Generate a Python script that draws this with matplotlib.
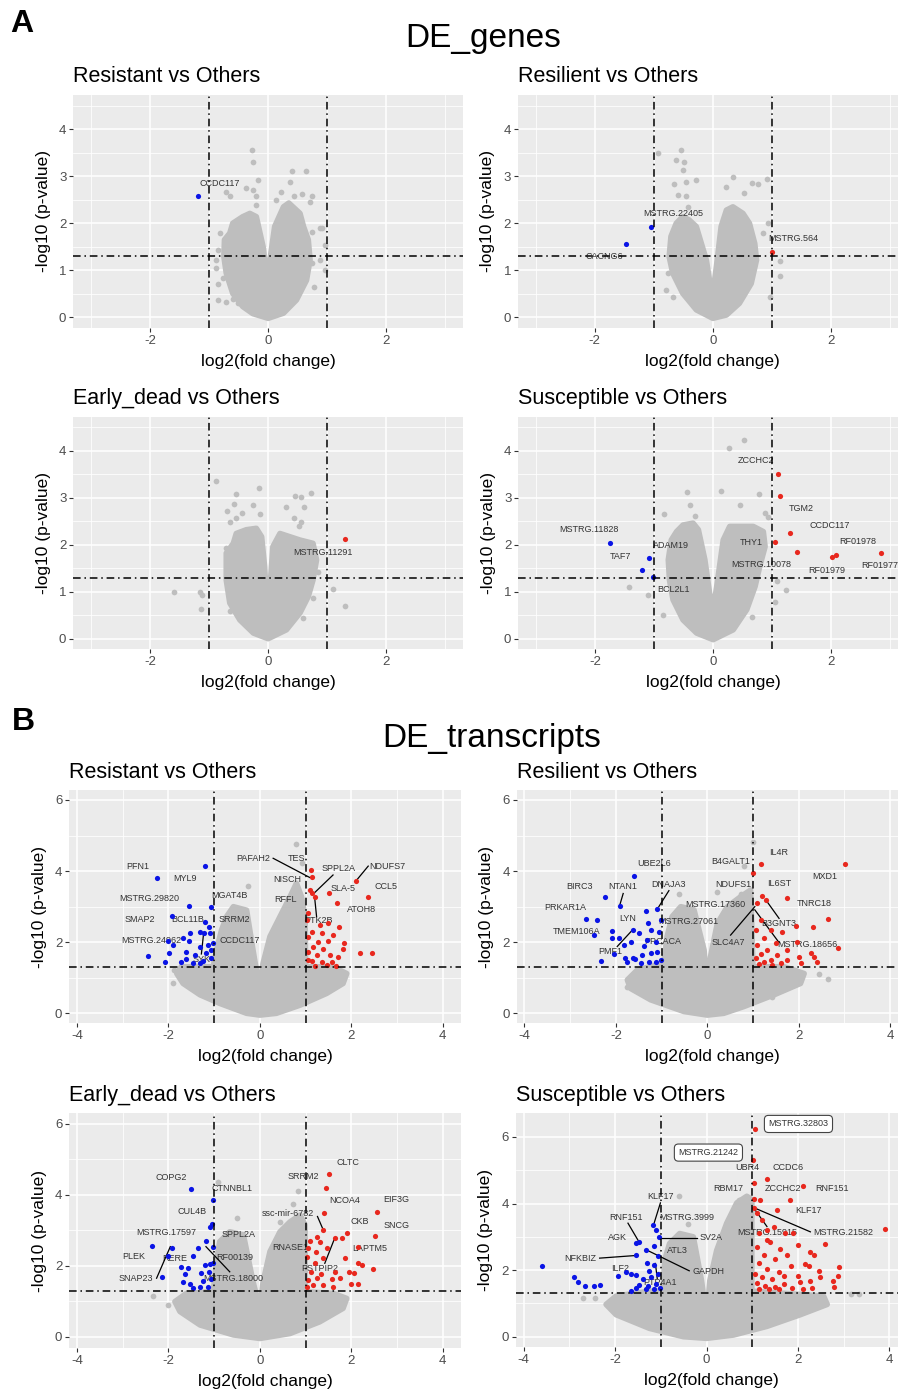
import numpy as np
import matplotlib
matplotlib.use("Agg")
import matplotlib.pyplot as plt

plt.rcParams['font.family'] = ['Liberation Sans', 'DejaVu Sans']
plt.rcParams['axes.unicode_minus'] = False

GREY = '#BEBEBE'
BLUE = '#0A14E6'
RED = '#E8281E'

# ---------------- DE_genes ----------------
# Resistant vs Others
a1_cloud = [(0, -0.02), (-0.26, 0.08), (-0.43, 0.23), (-0.6, 0.51), (-0.71, 0.94), (-0.75, 1.29),
            (-0.74, 1.65), (-0.65, 1.79), (-0.6, 2.0), (-0.43, 2.14), (-0.31, 2.21), (-0.2, 2.14),
            (-0.085, 1.5), (-0.03, 0.94), (0, 0.87), (0.03, 1.22), (0.11, 1.93), (0.26, 2.35),
            (0.35, 2.43), (0.54, 2.21), (0.6, 1.93), (0.68, 1.65), (0.71, 1.22), (0.65, 0.79),
            (0.48, 0.37), (0.26, 0.09)]
a1_grey = [(-0.27, 3.56), (-0.26, 3.31), (-0.17, 2.92), (-0.37, 2.74), (-0.26, 2.71), (-0.71, 2.67),
           (-0.65, 2.57), (-0.2, 2.58), (-0.2, 2.39), (-0.82, 1.79), (-0.85, 1.43), (-0.88, 1.22),
           (-0.88, 1.04), (-0.85, 0.72), (-0.77, 0.83), (-0.85, 0.37), (-0.71, 0.32), (-0.6, 0.4),
           (-0.51, 0.3), (0.40, 3.1), (0.64, 3.1), (0.37, 2.87), (0.22, 2.67), (0.57, 2.62),
           (0.43, 2.57), (0.75, 2.57), (0.71, 2.46), (0.13, 2.5), (0.74, 1.82), (0.88, 1.89),
           (0.92, 1.89), (0.96, 1.54), (0.88, 1.22), (0.74, 1.15), (0.96, 1.01), (0.77, 0.65)]
a1_blue = [(-1.18, 2.58)]
a1_red = []
a1_labels = [("CCDC117", -0.82, 2.84)]

# Resilient vs Others
a2_cloud = [(0, -0.02), (-0.28, 0.16), (-0.51, 0.51), (-0.68, 0.94), (-0.74, 1.29), (-0.71, 1.72),
            (-0.62, 2.0), (-0.51, 2.14), (-0.4, 2.07), (-0.28, 1.93), (-0.11, 1.22), (-0.03, 0.58),
            (0, 0.51), (0.06, 1.08), (0.14, 1.93), (0.23, 2.28), (0.34, 2.35), (0.51, 2.21),
            (0.62, 2.0), (0.71, 1.57), (0.74, 1.22), (0.65, 0.72), (0.45, 0.3), (0.23, 0.05)]
a2_grey = [(-0.93, 3.5), (-0.54, 3.55), (-0.62, 3.35), (-0.49, 3.31), (-0.51, 3.13), (-0.65, 2.84),
           (-0.45, 2.87), (-0.28, 2.91), (-0.59, 2.6), (-0.45, 2.58), (-0.42, 2.35), (0.34, 2.98),
           (0.22, 2.77), (0.52, 2.64), (0.67, 2.85), (0.76, 2.84), (0.92, 2.94), (0.93, 2.0),
           (0.85, 1.79), (1.13, 1.2), (1.13, 0.88), (0.97, 0.44), (-0.8, 0.58), (-0.67, 0.44),
           (-0.76, 0.94)]
a2_blue = [(-1.04, 1.93), (-1.47, 1.57)]
a2_red = [(1.01, 1.40)]
a2_labels = [("MSTRG.22405", -0.67, 2.2), ("CACNG6", -1.84, 1.29), ("MSTRG.564", 1.37, 1.67)]

# Early_dead vs Others
a3_cloud = [(0, 0.0), (-0.25, 0.12), (-0.48, 0.4), (-0.65, 0.76), (-0.71, 1.25), (-0.71, 1.82),
            (-0.59, 2.03), (-0.54, 2.24), (-0.37, 2.32), (-0.2, 2.35), (-0.11, 2.17), (-0.06, 1.54),
            (-0.03, 0.9), (0, 0.83), (0.04, 1.25), (0.08, 1.96), (0.2, 2.24), (0.37, 2.17),
            (0.54, 2.1), (0.76, 2.03), (0.82, 1.68), (0.76, 1.25), (0.68, 0.9), (0.54, 0.55),
            (0.31, 0.19)]
a3_grey = [(-0.89, 3.36), (-0.16, 3.21), (-0.54, 3.08), (-0.58, 2.87), (-0.26, 2.85), (-0.69, 2.72),
           (-0.44, 2.68), (-0.54, 2.57), (-0.65, 2.48), (-0.13, 2.65), (0.45, 3.04), (0.56, 3.02),
           (0.73, 3.11), (0.31, 2.8), (0.61, 2.8), (0.44, 2.56), (0.56, 2.49), (0.52, 2.39),
           (-1.59, 1.0), (-1.16, 1.0), (-1.12, 0.93), (-1.14, 0.63), (-0.65, 0.6), (1.1, 1.05),
           (1.3, 0.69), (0.76, 0.86), (0.85, 1.43), (0.59, 0.44), (-0.71, 1.93)]
a3_blue = []
a3_red = [(1.30, 2.12)]
a3_labels = [("MSTRG.11291", 0.92, 1.84)]

# Susceptible vs Others
a4_cloud = [(0, -0.02), (-0.28, 0.12), (-0.51, 0.4), (-0.68, 0.83), (-0.74, 1.25), (-0.76, 1.68),
            (-0.71, 2.1), (-0.62, 2.28), (-0.51, 2.42), (-0.34, 2.46), (-0.25, 2.32), (-0.14, 1.68),
            (-0.06, 0.97), (0, 0.62), (0.06, 1.11), (0.17, 2.1), (0.28, 2.39), (0.45, 2.39),
            (0.68, 2.39), (0.85, 2.28), (0.88, 1.96), (0.79, 1.54), (0.71, 1.11), (0.57, 0.62),
            (0.34, 0.19)]
a4_grey = [(0.53, 4.23), (0.27, 4.05), (-0.44, 3.12), (0.14, 3.15), (0.78, 3.09), (-0.39, 2.85),
           (0.46, 2.85), (-0.83, 2.65), (-0.31, 2.61), (0.88, 2.68), (0.93, 2.58), (-1.42, 1.1),
           (-1.1, 0.93), (1.08, 1.23), (1.24, 1.03), (1.05, 0.79), (0.65, 0.46), (-0.85, 0.51)]
a4_blue = [(-1.74, 2.04), (-1.09, 1.71), (-1.21, 1.47), (-1.02, 1.31)]
a4_red = [(1.10, 3.5), (1.13, 3.04), (1.30, 2.24), (1.04, 2.05), (1.42, 1.84), (2.01, 1.73),
          (2.08, 1.79), (2.85, 1.82)]
a4_labels = [("MSTRG.11828", -2.11, 2.32), ("TAF7", -1.57, 1.75), ("ADAM19", -0.72, 1.98),
             ("BCL2L1", -0.67, 1.04), ("ZCCHC2", 0.73, 3.79), ("TGM2", 1.5, 2.78),
             ("CCDC117", 1.97, 2.41), ("RF01978", 2.45, 2.06), ("THY1", 0.65, 2.05),
             ("MSTRG.10078", 0.82, 1.57), ("RF01979", 1.93, 1.45), ("RF01977", 2.83, 1.55)]

# ---------------- DE_transcripts ----------------
# Resistant vs Others
b1_cloud = [(0, -0.05), (-0.29, 0.0), (-0.88, 0.28), (-1.31, 0.52), (-1.68, 0.84), (-1.82, 1.12),
            (-1.72, 1.31), (-1.02, 1.31), (-0.95, 1.78), (-0.84, 2.34), (-0.73, 2.72), (-0.58, 3.0),
            (-0.29, 2.9), (-0.15, 1.78), (-0.04, 0.94), (0, 0.84), (0.07, 1.41), (0.22, 2.16),
            (0.44, 2.72), (0.66, 3.28), (0.8, 3.66), (0.91, 3.28), (0.99, 2.72), (1.0, 1.31),
            (1.6, 1.31), (1.9, 1.12), (1.82, 0.84), (1.46, 0.56), (0.88, 0.23), (0.36, 0.0)]
b1_grey = [(0.79, 4.75), (0.93, 4.22), (-0.26, 3.58), (-1.91, 0.84), (-1.89, 1.22)]
b1_blue = [(-1.21, 4.14), (-2.25, 3.80), (-1.55, 3.02), (-1.08, 3.0), (-1.92, 2.74), (-1.2, 2.58),
           (-1.12, 2.44), (-1.31, 2.3), (-1.53, 2.27), (-1.09, 2.25), (-1.69, 2.11), (-2.0, 2.04),
           (-1.55, 2.04), (-1.9, 1.92), (-1.02, 1.97), (-1.31, 1.87), (-1.99, 1.69), (-2.45, 1.62),
           (-1.61, 1.73), (-1.42, 1.64), (-1.17, 1.69), (-2.07, 1.44), (-1.72, 1.45), (-1.46, 1.41),
           (-1.24, 1.48), (-1.06, 1.55), (-1.61, 1.52), (-1.31, 1.41), (-1.06, 1.78), (-1.13, 1.92),
           (-1.23, 2.27)]
b1_red = [(1.11, 4.03), (1.13, 3.82), (2.1, 3.72), (1.09, 3.47), (1.13, 3.38), (1.2, 3.28),
          (1.52, 3.39), (2.36, 3.26), (1.68, 3.09), (1.06, 2.81), (1.02, 2.62), (1.5, 2.53),
          (1.74, 2.42), (1.13, 2.3), (1.35, 2.27), (1.61, 2.2), (1.06, 2.16), (1.28, 2.02),
          (1.5, 2.04), (1.85, 1.97), (1.17, 1.87), (1.39, 1.8), (1.82, 1.8), (1.06, 1.73),
          (2.18, 1.69), (2.45, 1.71), (1.24, 1.64), (1.53, 1.64), (1.71, 1.58), (1.13, 1.48),
          (1.35, 1.44), (1.57, 1.45), (1.06, 1.5), (1.66, 1.33), (1.46, 1.36), (1.2, 1.33),
          (1.31, 2.48)]
b1_labels = [("PFN1", -2.68, 4.12), ("MYL9", -1.64, 3.8), ("MSTRG.29820", -2.42, 3.23),
             ("MGAT4B", -0.66, 3.31), ("SMAP2", -2.63, 2.64), ("BCL11B", -1.59, 2.64),
             ("SRRM2", -0.56, 2.64), ("MSTRG.24962", -2.37, 2.06), ("CCDC117", -0.44, 2.06),
             ("SYK", -1.28, 1.52), ("PAFAH2", -0.15, 4.34), ("TES", 0.8, 4.34),
             ("NISCH", 0.6, 3.77), ("SPPL2A", 1.72, 4.08), ("NDUFS7", 2.79, 4.14),
             ("SLA-5", 1.82, 3.52), ("CCL5", 2.77, 3.58), ("RFFL", 0.57, 3.19),
             ("ATOH8", 2.23, 2.92), ("PTK2B", 1.28, 2.6)]
b1_links = [(0.29, 4.36, 1.09, 3.82), (1.6, 3.89, 1.17, 3.36), (2.37, 4.14, 2.1, 3.72),
            (1.24, 2.72, 1.2, 3.23), (-1.28, 1.67, -1.23, 2.27)]

# Resilient vs Others
b2_cloud = [(0, -0.05), (-0.51, 0.05), (-1.24, 0.38), (-1.68, 0.7), (-1.75, 0.94), (-1.53, 1.22),
            (-0.95, 1.41), (-0.88, 2.16), (-0.77, 2.72), (-0.58, 3.0), (-0.29, 2.91), (-0.07, 1.78),
            (0, 0.66), (0.07, 1.59), (0.22, 2.53), (0.44, 3.0), (0.73, 3.28), (0.95, 3.47),
            (1.0, 1.31), (1.68, 1.31), (2.12, 1.12), (2.04, 0.84), (1.46, 0.52), (0.8, 0.19),
            (0.36, 0.0)]
b2_grey = [(0.99, 4.83), (0.8, 4.14), (-0.62, 3.35), (0.22, 3.42), (0.73, 3.36), (0.91, 3.3),
           (2.45, 1.12), (2.63, 0.96), (1.42, 0.47), (-1.75, 0.73)]
b2_blue = [(-1.61, 3.87), (-2.24, 3.28), (-1.92, 3.02), (-1.11, 2.94), (-1.34, 2.88), (-2.41, 2.62),
           (-2.66, 2.64), (-1.3, 2.55), (-1.02, 2.62), (-2.09, 2.32), (-1.62, 2.34), (-1.5, 2.27),
           (-2.48, 2.2), (-1.24, 2.34), (-1.06, 2.3), (-2.08, 2.11), (-1.93, 2.11), (-1.68, 2.02),
           (-1.82, 1.92), (-1.31, 2.06), (-1.13, 2.02), (-2.04, 1.67), (-1.81, 1.55), (-1.62, 1.55),
           (-1.42, 1.64), (-1.24, 1.69), (-1.09, 1.73), (-2.32, 1.47), (-1.75, 1.43), (-1.46, 1.41),
           (-1.28, 1.45), (-1.13, 1.43), (-1.02, 1.5), (-1.59, 1.52), (-1.39, 1.88)]
b2_red = [(3.01, 4.19), (1.17, 4.19), (1.01, 3.96), (1.2, 3.31), (1.74, 3.23), (1.28, 3.19),
          (1.08, 3.09), (2.63, 2.64), (1.93, 2.46), (2.31, 2.44), (1.17, 2.62), (1.39, 2.34),
          (1.06, 2.34), (1.64, 2.3), (1.24, 2.11), (1.97, 2.02), (1.5, 1.97), (1.09, 1.92),
          (2.87, 1.83), (1.31, 1.78), (1.75, 1.78), (2.26, 1.69), (1.17, 1.67), (1.53, 1.64),
          (2.01, 1.59), (2.34, 1.59), (1.06, 1.55), (1.39, 1.5), (1.75, 1.5), (1.24, 1.43),
          (1.61, 1.41), (2.04, 1.41), (2.41, 1.44), (1.13, 1.38), (1.42, 1.36)]
b2_labels = [("UBE2L6", -1.17, 4.22), ("BIRC3", -2.79, 3.56), ("NTAN1", -1.86, 3.58),
             ("DNAJA3", -0.84, 3.61), ("PRKAR1A", -3.1, 2.98), ("LYN", -1.75, 2.67),
             ("MSTRG.27061", -0.42, 2.58), ("TMEM106A", -2.85, 2.3), ("PMF1", -2.13, 1.73),
             ("PPCACA", -0.98, 2.02), ("IL4R", 1.57, 4.52), ("B4GALT1", 0.51, 4.28),
             ("MXD1", 2.58, 3.86), ("NDUFS1", 0.58, 3.61), ("IL6ST", 1.57, 3.66),
             ("MSTRG.17360", 0.17, 3.05), ("TNRC18", 2.35, 3.09), ("B3GNT3", 1.57, 2.53),
             ("SLC4A7", 0.47, 2.0), ("MSTRG.18656", 2.19, 1.94)]
b2_links = [(-1.84, 3.37, -1.92, 3.02), (-0.84, 3.45, -1.06, 3.0), (-1.97, 1.88, -1.64, 2.34),
            (1.57, 2.67, 1.28, 3.19), (0.51, 2.2, 1.04, 3.0), (1.57, 1.99, 1.04, 2.91)]

# Early_dead vs Others
b3_cloud = [(0, -0.05), (-0.58, 0.05), (-1.31, 0.33), (-1.75, 0.71), (-1.86, 0.99), (-1.61, 1.22),
            (-1.02, 1.27), (-0.95, 2.12), (-0.88, 2.68), (-0.66, 2.96), (-0.36, 2.87), (-0.15, 1.55),
            (0, 0.8), (0.07, 1.55), (0.22, 2.4), (0.44, 2.96), (0.66, 3.24), (0.88, 3.43),
            (0.99, 3.15), (0.99, 1.27), (1.61, 1.22), (1.9, 1.08), (1.82, 0.8), (1.31, 0.42),
            (0.66, 0.09)]
b3_grey = [(-0.91, 4.37), (0.84, 4.11), (0.73, 3.73), (-0.51, 3.34), (0.44, 3.24), (-2.34, 1.16),
           (-2.01, 0.89), (-1.64, 0.8)]
b3_blue = [(-1.5, 4.17), (-1.02, 3.86), (-1.04, 3.18), (-1.09, 3.08), (-2.35, 2.57), (-1.93, 2.51),
           (-1.17, 2.7), (-1.36, 2.49), (-1.02, 2.54), (-2.01, 2.29), (-1.46, 2.29), (-1.2, 2.02),
           (-1.09, 2.04), (-1.72, 1.97), (-1.57, 1.95), (-1.02, 2.07), (-2.14, 1.68), (-1.64, 1.76),
           (-1.28, 1.79), (-1.11, 1.83), (-1.68, 1.55), (-1.53, 1.5), (-1.24, 1.57), (-1.06, 1.63),
           (-1.31, 1.41), (-1.13, 1.41), (-1.46, 1.36)]
b3_red = [(1.52, 4.59), (1.45, 4.19), (2.57, 3.53), (1.4, 3.48), (1.39, 3.01), (1.9, 2.92),
          (2.52, 2.83), (1.24, 2.82), (1.64, 2.79), (1.79, 2.77), (1.31, 2.68), (1.09, 2.71),
          (2.15, 2.54), (1.06, 2.51), (1.23, 2.4), (1.46, 2.49), (1.86, 2.21), (1.02, 2.26),
          (1.39, 2.21), (2.15, 2.07), (2.23, 2.02), (1.2, 2.07), (2.47, 1.91), (1.64, 1.83),
          (1.95, 1.83), (2.06, 1.79), (1.12, 1.83), (1.34, 1.76), (1.75, 1.66), (1.06, 1.6),
          (1.24, 1.65), (1.58, 1.63), (1.99, 1.48), (2.15, 1.48), (1.17, 1.46), (1.39, 1.46),
          (1.61, 1.39), (1.02, 1.41)]
b3_labels = [("COPG2", -1.93, 4.5), ("CTNNBL1", -0.61, 4.19), ("CUL4B", -1.48, 3.53),
             ("MSTRG.17597", -2.04, 2.93), ("SPPL2A", -0.46, 2.89), ("PLEK", -2.77, 2.26),
             ("RERE", -1.86, 2.21), ("RF00139", -0.55, 2.24), ("SNAP23", -2.72, 1.63),
             ("MSTRG.18000", -0.58, 1.65), ("CLTC", 1.93, 4.92), ("SRRM2", 0.96, 4.51),
             ("NCOA4", 1.85, 3.83), ("EIF3G", 2.99, 3.86), ("ssc-mir-6782", 0.61, 3.47),
             ("CKB", 2.18, 3.24), ("SNCG", 2.98, 3.15), ("RNASE1", 0.66, 2.51),
             ("LAPTM5", 2.41, 2.49), ("PSTPIP2", 1.31, 1.93)]
b3_links = [(1.26, 3.39, 1.37, 3.06), (-2.26, 1.65, -1.96, 2.54), (-0.66, 1.83, -1.18, 2.54),
            (1.42, 2.07, 1.64, 2.79)]

# Susceptible vs Others
b4_cloud = [(0, -0.05), (-0.51, 0.0), (-1.25, 0.25), (-1.98, 0.66), (-2.2, 0.97), (-1.98, 1.22),
            (-1.25, 1.37), (-0.95, 1.37), (-0.92, 2.29), (-0.81, 2.8), (-0.59, 3.1), (-0.29, 3.0),
            (-0.11, 1.68), (0, 0.56), (0.07, 1.68), (0.22, 2.59), (0.44, 3.41), (0.66, 4.02),
            (0.88, 4.22), (0.99, 4.12), (0.99, 1.37), (2.05, 1.27), (2.56, 1.22), (2.64, 0.97),
            (2.05, 0.66), (1.32, 0.31), (0.59, 0.05)]
b4_grey = [(-0.6, 4.22), (-0.4, 3.38), (0.71, 4.12), (-2.71, 1.15), (-2.45, 1.15), (3.15, 1.27),
           (3.33, 1.27)]
b4_blue = [(-3.6, 2.12), (-2.91, 1.78), (-2.82, 1.63), (-2.67, 1.51), (-2.47, 1.52), (-2.34, 1.56),
           (-1.94, 1.81), (-1.76, 1.93), (-1.65, 1.88), (-1.54, 1.86), (-1.65, 1.37), (-1.54, 2.44),
           (-1.48, 2.85), (-1.54, 2.8), (-1.32, 2.61), (-1.17, 3.36), (-1.1, 3.2), (-1.04, 2.98),
           (-1.16, 2.72), (-1.3, 2.21), (-1.14, 2.14), (-1.06, 2.41), (-1.25, 1.98), (-1.39, 1.73),
           (-1.21, 1.78), (-1.06, 1.88), (-1.47, 1.56), (-1.28, 1.53), (-1.1, 1.58), (-1.54, 1.47),
           (-1.32, 1.42), (-1.14, 1.42), (-1.03, 1.47)]
b4_red = [(1.06, 6.23), (1.01, 5.32), (1.03, 4.63), (1.33, 4.73), (2.12, 4.53), (1.03, 4.14),
          (1.17, 4.12), (1.82, 4.12), (1.03, 3.86), (1.54, 3.81), (1.1, 3.71), (1.21, 3.51),
          (3.9, 3.25), (1.72, 3.1), (1.9, 3.12), (1.32, 3.2), (2.58, 2.78), (2.27, 2.54),
          (2.34, 2.46), (1.1, 2.69), (1.39, 2.85), (1.61, 2.64), (2.01, 2.75), (1.25, 2.44),
          (1.5, 2.34), (1.76, 2.44), (2.16, 2.19), (2.23, 2.11), (1.14, 2.21), (1.85, 2.11),
          (2.89, 2.08), (2.45, 1.98), (1.32, 2.03), (1.58, 1.93), (1.69, 1.83), (2.01, 1.83),
          (2.87, 1.82), (2.49, 1.8), (1.06, 1.88), (1.21, 1.78), (1.43, 1.73), (2.27, 1.68),
          (2.77, 1.68), (2.04, 1.63), (1.69, 1.58), (1.1, 1.6), (1.28, 1.53), (1.5, 1.5),
          (2.78, 1.5), (1.87, 1.47), (2.31, 1.47), (2.12, 1.42), (1.14, 1.42), (1.36, 1.42),
          (1.58, 1.42), (1.32, 2.9), (1.47, 3.31), (1.14, 3.1)]
b4_labels = [("KLF17", -1.01, 4.22), ("RNF151", -1.76, 3.59), ("MSTRG.3999", -0.44, 3.59),
             ("AGK", -1.96, 2.97), ("SV2A", 0.09, 2.97), ("ATL3", -0.64, 2.59),
             ("NFKBIZ", -2.77, 2.34), ("ILF2", -1.9, 2.06), ("GAPDH", 0.04, 1.96),
             ("PTP4A1", -1.01, 1.63), ("UBR4", 0.88, 5.08), ("CCDC6", 1.79, 5.08),
             ("RBM17", 0.48, 4.45), ("ZCCHC2", 1.67, 4.45), ("RNF151", 2.75, 4.45),
             ("KLF17", 2.23, 3.78), ("MSTRG.15915", 1.32, 3.12), ("MSTRG.21582", 2.99, 3.12)]
b4_links = [(-1.01, 4.02, -1.16, 3.36), (-1.72, 3.41, -1.48, 2.85), (-0.22, 2.97, -1.03, 2.97),
            (-2.34, 2.36, -1.54, 2.44), (-0.38, 1.98, -1.32, 2.61), (1.32, 3.31, 1.06, 3.81),
            (2.27, 3.15, 1.06, 3.86), (-1.08, 1.75, -1.12, 2.2)]
b4_boxed = [("MSTRG.21242", 0.04, 5.53), ("MSTRG.32803", 2.01, 6.39)]

W, H = 898, 1391
fig = plt.figure(figsize=(W / 100, H / 100), dpi=100)


def px_axes(left, top, width, height):
    return fig.add_axes([left / W, 1 - (top + height) / H, width / W, height / H])


def volcano(ax, title, cloud, grey, blue, red, labels, links=(), boxed=(),
            xlim=(-3.3, 3.3), ylim=(-0.225, 4.725), xmaj=(-2, 0, 2), ymaj=(0, 1, 2, 3, 4)):
    ax.set_facecolor('#EBEBEB')
    for sp in ax.spines.values():
        sp.set_visible(False)
    xstep = xmaj[1] - xmaj[0]
    ystep = ymaj[1] - ymaj[0]
    ax.set_xticks(xmaj)
    ax.set_yticks(ymaj)
    ax.set_xticks(np.arange(xmaj[0] - xstep / 2, xmaj[-1] + xstep, xstep), minor=True)
    ax.set_yticks(np.arange(ymaj[0] + ystep / 2, ymaj[-1] + ystep, ystep), minor=True)
    ax.set_xlim(xlim)
    ax.set_ylim(ylim)
    ax.set_axisbelow(True)
    ax.grid(which='major', color='white', lw=1.1)
    ax.grid(which='minor', color='white', lw=0.55)
    ax.tick_params(which='minor', length=0)
    ax.tick_params(which='major', length=3, width=0.8, color='#333333',
                   labelcolor='#4D4D4D', labelsize=9.5, pad=2)

    # dense cloud of non-significant features
    cx, cy = zip(*cloud)
    ax.fill(cx, cy, fc=GREY, ec=GREY, lw=4, joinstyle='round', zorder=2)
    if grey:
        gx, gy = zip(*grey)
        ax.scatter(gx, gy, s=17, c=GREY, lw=0, zorder=2)

    for txt, x, y in labels:
        ax.text(x, y, txt, ha='center', va='center', fontsize=6.5, color='#333333', zorder=3)
    for x0, y0, x1, y1 in links:
        ax.plot([x0, x1], [y0, y1], color='black', lw=0.9, zorder=3)

    if blue:
        bx, by = zip(*blue)
        ax.scatter(bx, by, s=14, c=BLUE, lw=0, zorder=4)
    if red:
        rx, ry = zip(*red)
        ax.scatter(rx, ry, s=14, c=RED, lw=0, zorder=4)

    dash = (0, (5, 2.5, 1, 2.5))
    ax.axhline(-np.log10(0.05), color='black', lw=1.1, ls=dash, zorder=5)
    ax.axvline(-1, color='black', lw=1.1, ls=dash, zorder=5)
    ax.axvline(1, color='black', lw=1.1, ls=dash, zorder=5)

    for txt, x, y in boxed:
        ax.text(x, y, txt, ha='center', va='center', fontsize=6.5, color='#333333', zorder=6,
                bbox=dict(boxstyle='round,pad=0.45', fc='white', ec='#444444', lw=0.8))

    ax.set_title(title, loc='left', fontsize=15.5, pad=9)
    ax.set_xlabel('log2(fold change)', fontsize=12.5, labelpad=5)
    ax.set_ylabel('-log10 (p-value)', fontsize=12.5, labelpad=6)


gene_panels = [
    ((73.3, 95, 389.7, 233), "Resistant vs Others", a1_cloud, a1_grey, a1_blue, a1_red, a1_labels),
    ((518, 95, 389.7, 233), "Resilient vs Others", a2_cloud, a2_grey, a2_blue, a2_red, a2_labels),
    ((73.3, 416.7, 389.7, 232.6), "Early_dead vs Others", a3_cloud, a3_grey, a3_blue, a3_red, a3_labels),
    ((518.3, 416.7, 389.7, 232.6), "Susceptible vs Others", a4_cloud, a4_grey, a4_blue, a4_red, a4_labels),
]
for rect, title, cloud, grey, blue, red, labels in gene_panels:
    volcano(px_axes(*rect), title, cloud, grey, blue, red, labels)

tx_kw = dict(xlim=(-4.17, 4.4), xmaj=(-4, -2, 0, 2, 4), ymaj=(0, 2, 4, 6))
volcano(px_axes(69.3, 790, 391.7, 233.3), "Resistant vs Others", b1_cloud, b1_grey, b1_blue,
        b1_red, b1_labels, b1_links, ylim=(-0.28, 6.28), **tx_kw)
volcano(px_axes(516.7, 790, 391.7, 233.3), "Resilient vs Others", b2_cloud, b2_grey, b2_blue,
        b2_red, b2_labels, b2_links, ylim=(-0.28, 6.28), **tx_kw)
volcano(px_axes(69.3, 1113.3, 391.7, 234.4), "Early_dead vs Others", b3_cloud, b3_grey, b3_blue,
        b3_red, b3_labels, b3_links, ylim=(-0.31, 6.3), **tx_kw)
volcano(px_axes(516, 1113.3, 391.7, 233.4), "Susceptible vs Others", b4_cloud, b4_grey, b4_blue,
        b4_red, b4_labels, b4_links, b4_boxed, ylim=(-0.3, 6.71), **tx_kw)

fig.text(10 / W, 1 - 32 / H, "A", fontsize=23, fontweight='bold', ha='left', va='baseline')
fig.text(483 / W, 1 - 47 / H, "DE_genes", fontsize=24, ha='center', va='baseline')
fig.text(12 / W, 1 - 730 / H, "B", fontsize=23, fontweight='bold', ha='left', va='baseline')
fig.text(492 / W, 1 - 747 / H, "DE_transcripts", fontsize=24, ha='center', va='baseline')

fig.savefig("out.png", dpi=100)
